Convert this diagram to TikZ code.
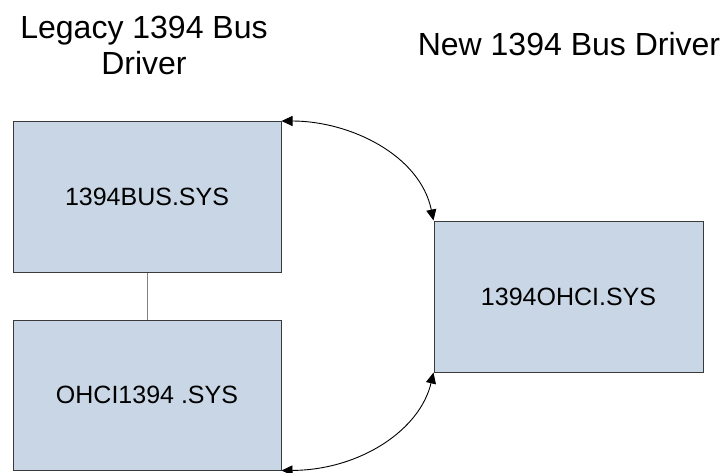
\documentclass[tikz,border=0pt]{standalone}
\usepackage{fontspec}
\setmainfont{Liberation Sans}
\usetikzlibrary{arrows.meta}
\definecolor{boxfill}{HTML}{C9D6E5}
\definecolor{boxline}{HTML}{3A3A3A}
\tikzset{
  drvbox/.style={draw=boxline, fill=boxfill, line width=1pt, minimum width=268pt, minimum height=151pt, inner sep=0pt, font=\fontsize{25}{30}\selectfont},
  hdr/.style={font=\fontsize{32}{36}\selectfont, inner sep=0pt, align=center},
  link/.style={draw=black, line width=0.9pt, {Triangle[length=11pt,width=10pt]}-{Triangle[length=11pt,width=10pt]}},
  plain/.style={draw=gray, line width=1pt}
}
\begin{document}
\begin{tikzpicture}[x=1pt,y=-1pt]
\useasboundingbox (0,0) rectangle (726,472);
\node[drvbox] (bus) at (147,197) {1394BUS.SYS};
\node[drvbox, minimum height=150pt] (ohci) at (147,395) {OHCI1394 .SYS};
\node[drvbox, minimum width=269pt] (newb) at (568.5,296.5) {1394OHCI.SYS};
\node[hdr, anchor=base] (hl1) at (144,38) {Legacy 1394 Bus};
\node[hdr, anchor=base] (hl2) at (144,74) {Driver};
\node[hdr, anchor=base] (hn) at (569,55) {New 1394 Bus Driver};
\draw[plain] (bus.south) -- (ohci.north);
\draw[link] (bus.north east) .. controls (350,121) and (420,155) .. (newb.north west);
\draw[link] (newb.south west) .. controls (420,430) and (360,470) .. (ohci.south east);
\end{tikzpicture}
\end{document}
